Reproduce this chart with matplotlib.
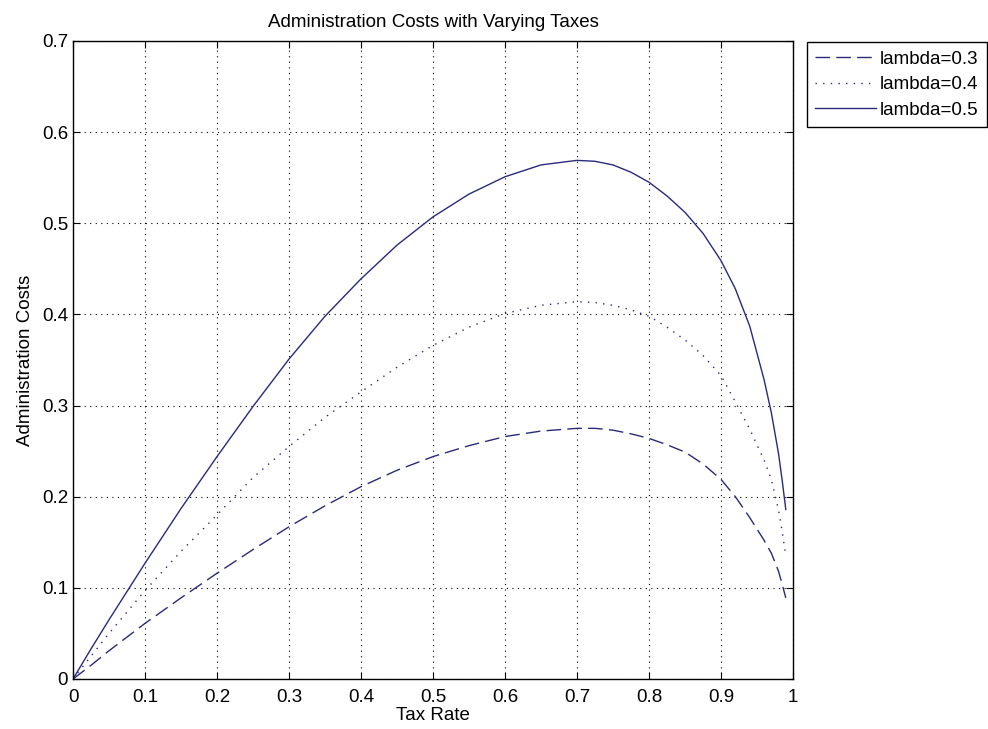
import matplotlib
matplotlib.use("Agg")
import matplotlib.pyplot as plt

# tax rate grid and administration cost per lambda
tax_rate = [0, 0.025, 0.05, 0.1, 0.15, 0.2, 0.25, 0.3, 0.35, 0.4, 0.45, 0.5, 0.55, 0.6, 0.65, 0.7,
            0.725, 0.75, 0.775, 0.8, 0.825, 0.85, 0.875, 0.9,
            0.92, 0.94, 0.96, 0.97, 0.98, 0.985, 0.99]
cost_l03 = [0, 0.015, 0.031, 0.061, 0.089, 0.116, 0.142, 0.167, 0.19, 0.211, 0.229, 0.244, 0.256, 0.266, 0.272, 0.275,
            0.275, 0.273, 0.269, 0.264, 0.257, 0.249, 0.236, 0.219,
            0.2, 0.177, 0.152, 0.138, 0.118, 0.104, 0.089]
cost_l04 = [0, 0.025, 0.05, 0.097, 0.14, 0.18, 0.221, 0.255, 0.287, 0.315, 0.342, 0.366, 0.386, 0.401, 0.41, 0.414,
            0.413, 0.41, 0.405, 0.398, 0.386, 0.372, 0.355, 0.333,
            0.304, 0.274, 0.24, 0.219, 0.185, 0.162, 0.135]
cost_l05 = [0, 0.033, 0.065, 0.127, 0.187, 0.244, 0.299, 0.351, 0.398, 0.439, 0.476, 0.507, 0.532, 0.551, 0.564, 0.569,
            0.568, 0.564, 0.556, 0.545, 0.530, 0.512, 0.489, 0.459,
            0.428, 0.387, 0.328, 0.292, 0.247, 0.218, 0.186]
labels = ["lambda=0.3", "lambda=0.4", "lambda=0.5"]

plt.rcParams['font.family'] = ['Liberation Sans', 'DejaVu Sans']
plt.rcParams['font.size'] = 13.5

line_color = '#2a2a7a'

fig = plt.figure(figsize=(9.88, 7.29), dpi=100)
ax = fig.add_axes([0.0739, 0.0686, 0.7287, 0.8752])

ax.plot(tax_rate, cost_l03, color=line_color, lw=1.0, dashes=(10.5, 4.5), label=labels[0])
ax.plot(tax_rate, cost_l04, color=line_color, lw=1.0, dashes=(1, 4.5), label=labels[1])
ax.plot(tax_rate, cost_l05, color=line_color, lw=1.0, label=labels[2])

ax.set_xlim(0, 1)
ax.set_ylim(0, 0.7)
ax.set_xticks([i / 10 for i in range(11)])
ax.set_yticks([i / 10 for i in range(8)])
ax.set_xticklabels(['0', '0.1', '0.2', '0.3', '0.4', '0.5', '0.6', '0.7', '0.8', '0.9', '1'])
ax.set_yticklabels(['0', '0.1', '0.2', '0.3', '0.4', '0.5', '0.6', '0.7'])
ax.tick_params(axis='x', pad=7)
ax.tick_params(direction='in', top=True, right=True, length=5, width=0.8)
for s in ax.spines.values():
    s.set_linewidth(1.0)

ax.grid(True, color='black', lw=0.8, dashes=(1, 4))

ax.set_title("Administration Costs with Varying Taxes", fontsize=13.5, pad=10)
ax.set_xlabel("Tax Rate", labelpad=1)
ax.set_ylabel("Administration Costs", labelpad=6)

fig.legend(loc='upper left', bbox_to_anchor=(0.8168, 0.9424), borderaxespad=0,
           fancybox=False, edgecolor='black', framealpha=1, handlelength=3.25,
           handletextpad=0.2, labelspacing=0.45, borderpad=0.45)

plt.savefig("out.png", dpi=100)
